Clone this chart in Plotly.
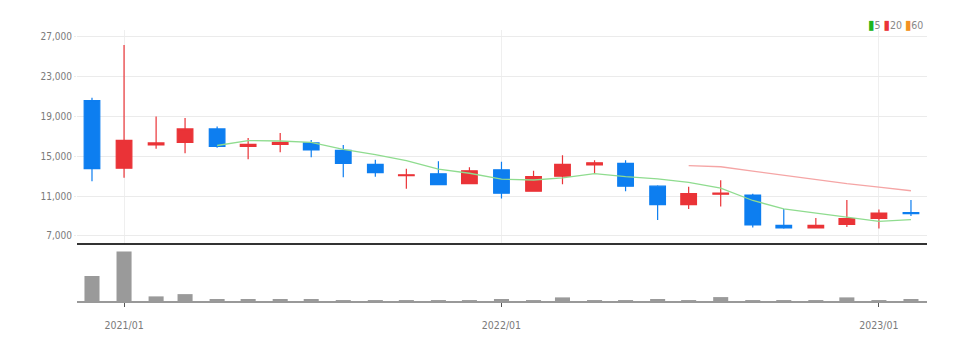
import plotly.graph_objects as go

months = ["2020-12-01", "2021-01-01", "2021-02-01", "2021-03-01", "2021-04-01", "2021-05-01",
          "2021-06-01", "2021-07-01", "2021-08-01", "2021-09-01", "2021-10-01", "2021-11-01",
          "2021-12-01", "2022-01-01", "2022-02-01", "2022-03-01", "2022-04-01", "2022-05-01",
          "2022-06-01", "2022-07-01", "2022-08-01", "2022-09-01", "2022-10-01", "2022-11-01",
          "2022-12-01", "2023-01-01", "2023-02-01"]
opens = [20600, 13800, 16150, 16400, 17750, 16000, 16200, 16350, 15600, 14200, 13050, 13250,
         12250, 13650, 11500, 13000, 14150, 14300, 12000, 10150, 11200, 11100, 8050, 7800,
         8150, 8750, 9350]
highs = [20900, 26200, 19000, 18850, 18000, 16850, 17350, 16650, 16150, 14650, 13750, 14500,
         13900, 14450, 13550, 15100, 14600, 14600, 12100, 11950, 12600, 11250, 9700, 8800,
         10600, 9650, 10600]
lows = [12500, 12850, 15750, 15300, 15850, 14700, 15400, 14900, 12900, 12950, 11750, 12100,
        12200, 10750, 11450, 12200, 13300, 11500, 8600, 9700, 9950, 7850, 7720, 7780,
        7900, 7750, 9000]
closes = [13750, 16600, 16350, 17750, 16000, 16200, 16400, 15650, 14300, 13350, 13150, 12150,
          13550, 11300, 12950, 14200, 14350, 12000, 10150, 11250, 11300, 8100, 7800, 8050,
          8750, 9300, 9250]
volumes = [5050, 10000, 930, 1390, 400, 400, 400, 400, 150, 150, 150, 150,
           150, 400, 150, 730, 150, 150, 400, 150, 790, 150, 150, 30,
           730, 150, 400]

ma5_x = months[4:]
ma5 = [16090, 16580, 16540, 16400, 15710, 15180, 14570, 13720, 13300, 12700, 12620, 12830,
       13270, 12960, 12730, 12390, 11810, 10560, 9720, 9300, 8830, 8460, 8630]
ma20_x = months[19:]
ma20 = [14070, 13950, 13520, 13100, 12610, 12250, 11900, 11540]

price_ticks = [7000, 11000, 15000, 19000, 23000, 27000]

font_fam = "DejaVu Sans Condensed, Liberation Sans Narrow, Liberation Sans, sans-serif"
tick_col = "#7a7a7a"

fig = go.Figure()

fig.add_trace(go.Candlestick(
    x=months, open=opens, high=highs, low=lows, close=closes,
    increasing=dict(line=dict(color="#ea3337", width=1.2), fillcolor="#ea3337"),
    decreasing=dict(line=dict(color="#0d7ef0", width=1.2), fillcolor="#0d7ef0"),
    whiskerwidth=0, showlegend=False, hoverinfo="skip",
    xaxis="x", yaxis="y"))

fig.add_trace(go.Scatter(x=ma5_x, y=ma5, mode="lines",
                         line=dict(color="#8fdc8f", width=1.3),
                         showlegend=False, hoverinfo="skip", xaxis="x", yaxis="y"))
fig.add_trace(go.Scatter(x=ma20_x, y=ma20, mode="lines",
                         line=dict(color="#f5a5a5", width=1.3),
                         showlegend=False, hoverinfo="skip", xaxis="x", yaxis="y"))

fig.add_trace(go.Bar(x=months, y=volumes, marker=dict(color="#9a9a9a", line=dict(width=0)),
                     showlegend=False, hoverinfo="skip", xaxis="x2", yaxis="y2"))

xrange = ["2020-11-16 12:00", "2023-02-16 12:00"]
H = 343
top, bottom = 30, 37
ph = H - top - bottom
vol_h = 58

fig.update_layout(
    width=976, height=H,
    margin=dict(l=77, r=49, t=top, b=bottom),
    paper_bgcolor="white", plot_bgcolor="white",
    boxgap=0.46, boxgroupgap=0, bargap=0.48,
    hovermode=False,
    xaxis=dict(domain=[0, 1], range=xrange, type="date", anchor="y",
               showticklabels=False, dtick="M12", tick0="2021-01-01",
               showgrid=True, gridcolor="#efefef", gridwidth=1,
               showline=True, linecolor="#333333", linewidth=2,
               rangeslider=dict(visible=False), zeroline=False, ticks=""),
    yaxis=dict(domain=[(vol_h + 1) / ph, 1], range=[6280, 27700], anchor="x",
               tickvals=price_ticks, tickformat=",d",
               showgrid=True, gridcolor="#ebebeb", gridwidth=1,
               zeroline=False, showline=False,
               ticks="outside", ticklen=2, tickcolor="#ebebeb",
               tickfont=dict(family=font_fam, size=10, color=tick_col)),
    xaxis2=dict(domain=[0, 1], range=xrange, type="date", anchor="y2",
                dtick="M12", tick0="2021-01-01", tickformat="%Y/%m",
                showgrid=False, showline=True, linecolor="#999999", linewidth=2,
                ticks="outside", ticklen=4, tickcolor="#555555", tickwidth=1,
                ticklabelstandoff=9,
                tickfont=dict(family=font_fam, size=10.5, color=tick_col),
                zeroline=False),
    yaxis2=dict(domain=[0, vol_h / ph], range=[0, 11500], anchor="x2",
                showticklabels=False, showgrid=False, zeroline=False, showline=False),
)

sq = "<span style='color:{};font-size:13px'>▮</span>"
legend_text = (sq.format("#1db51d") + "5 " +
               sq.format("#ea3337") + "20 " +
               sq.format("#f39122") + "60")
fig.add_annotation(text=legend_text, xref="paper", yref="paper",
                   x=(925 - 77) / 850, y=1 + (top - 24) / ph,
                   xanchor="right", yanchor="middle", showarrow=False,
                   font=dict(family=font_fam, size=10.5, color="#888888"))

fig.write_html("out.html")
